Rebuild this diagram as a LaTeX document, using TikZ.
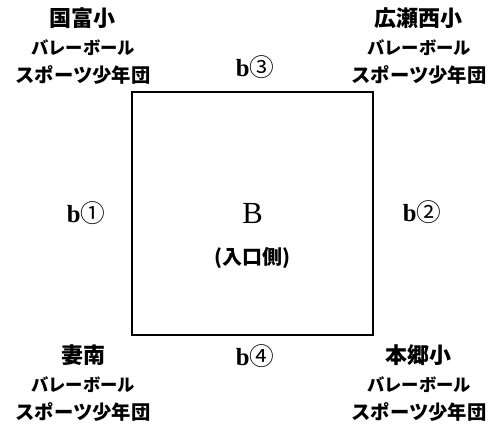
\documentclass[tikz,border=0pt]{standalone}
\usepackage{fontspec}
\setmainfont{Liberation Serif}
\newfontfamily\jp{Noto Sans CJK JP}
\usetikzlibrary{positioning}

\begin{document}
\begin{tikzpicture}[x=0.75pt,y=-0.75pt,
                    court/.style={draw,line width=1.5pt,minimum width=180.75pt,
                                  minimum height=182.25pt,inner sep=0pt,outer sep=0pt},
                    team/.style={align=center,inner sep=0pt,
                                 font=\jp\bfseries\fontsize{13}{21}\selectfont},
                    side/.style={inner sep=0pt,font=\bfseries\fontsize{18.5}{22}\selectfont}]
  \useasboundingbox (0,0) rectangle (501,426);
  \node[court] (court) at (252.5,213.5) {};
  \node[font=\fontsize{23}{26}\selectfont] (B) at (252.5,213) {B};
  \node[font=\jp\bfseries\fontsize{15}{18}\selectfont] (entrance) at (252.5,258) {(入口側)};
  % sides
  \node[side] (b3) at (255,67)  {b{\jp\mdseries ③}};
  \node[side] (b1) at (86,213)  {b{\jp\mdseries ①}};
  \node[side] (b2) at (422,212) {b{\jp\mdseries ②}};
  \node[side] (b4) at (255,356) {b{\jp\mdseries ④}};
  % teams
  \node[team] (kunitomi) at (83,46)  {{\fontsize{16.5}{20}\selectfont 国富小}\\バレーボール\\{\fontsize{14.5}{20}\selectfont スポーツ少年団}};
  \node[team] (hirose)   at (419,46) {{\fontsize{16.5}{20}\selectfont 広瀬西小}\\バレーボール\\{\fontsize{14.5}{20}\selectfont スポーツ少年団}};
  \node[team] (tsuma)    at (83,383) {{\fontsize{16.5}{20}\selectfont 妻南}\\バレーボール\\{\fontsize{14.5}{20}\selectfont スポーツ少年団}};
  \node[team] (hongo)    at (419,383) {{\fontsize{16.5}{20}\selectfont 本郷小}\\バレーボール\\{\fontsize{14.5}{20}\selectfont スポーツ少年団}};
\end{tikzpicture}
\end{document}
